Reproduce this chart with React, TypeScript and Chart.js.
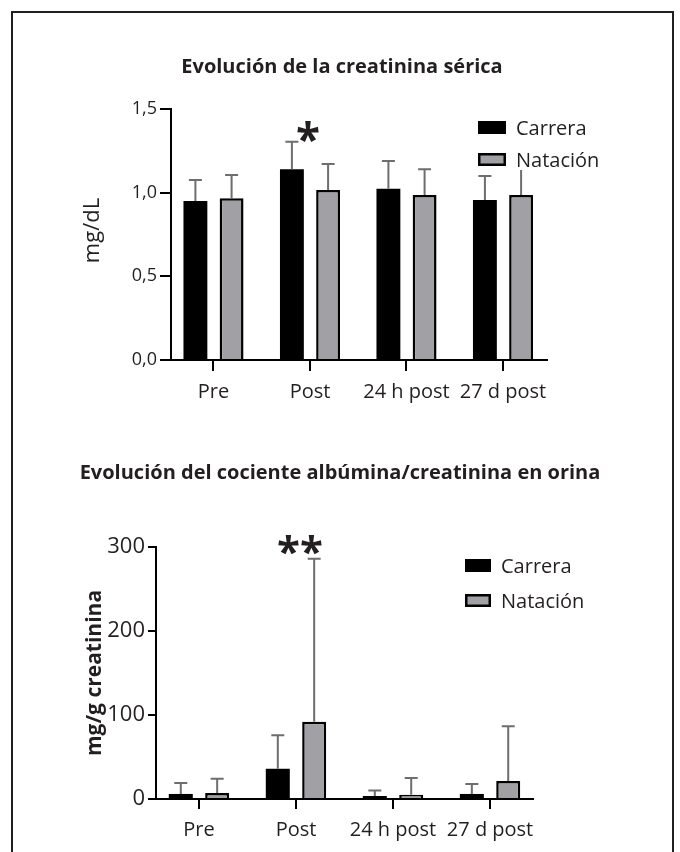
import React, { useEffect, useRef } from 'react';
import { Chart, registerables } from 'chart.js';
Chart.register(...registerables);

// ---------- data ----------
const categories = ['Pre', 'Post', '24 h post', '27 d post'];
const seriesNames = ['Carrera', 'Natación'];

// Serum creatinine (mg/dL): mean and SD
const creatCarrera = [0.95, 1.14, 1.024, 0.956];
const creatCarreraSD = [0.126, 0.165, 0.165, 0.144];
const creatNatacion = [0.966, 1.016, 0.986, 0.986];
const creatNatacionSD = [0.14, 0.155, 0.154, 0.17];
const creatTicks = [0, 0.5, 1.0, 1.5];
const creatMarks = ['', '*', '', ''];

// Urine albumin/creatinine ratio (mg/g creatinina): mean and SD
const acrCarrera = [6, 36, 3.6, 6];
const acrCarreraSD = [13, 40, 6.5, 12];
const acrNatacion = [7, 92, 5, 21.5];
const acrNatacionSD = [17, 194, 20, 65];
const acrTicks = [0, 100, 200, 300];
const acrMarks = ['', '**', '', ''];

// ---------- styles ----------
const FONT = "'Open Sans', 'DejaVu Sans', sans-serif";
const INK = '#231f20';
const GREY = '#a1a1a5';
const WHISKER = '#6e6e6e';
const seriesColors = ['#000000', GREY];

const decorPlugin: any = {
  id: 'decor',
  afterDatasetsDraw(chart: any, _args: any, o: any) {
    const ctx = chart.ctx;
    const ys = chart.scales.y;
    ctx.save();
    ctx.strokeStyle = WHISKER;
    ctx.lineWidth = 2;
    o.errors.forEach((errs: number[], di: number) => {
      const meta = chart.getDatasetMeta(di);
      meta.data.forEach((el: any, j: number) => {
        const top = ys.getPixelForValue(o.values[di][j] + errs[j]);
        ctx.beginPath();
        ctx.moveTo(el.x, el.y);
        ctx.lineTo(el.x, top);
        ctx.moveTo(el.x - o.capHalf, top);
        ctx.lineTo(el.x + o.capHalf, top);
        ctx.stroke();
      });
    });
    ctx.restore();
  },
  afterDraw(chart: any, _args: any, o: any) {
    const ctx = chart.ctx;
    const area = chart.chartArea;
    const xs = chart.scales.x;
    const ys = chart.scales.y;
    ctx.save();
    // title
    ctx.fillStyle = INK;
    ctx.font = `bold ${o.titleSize}px ${FONT}`;
    ctx.textAlign = 'center';
    ctx.textBaseline = 'middle';
    ctx.fillText(o.title, o.titleX, o.titleY);
    // y title
    ctx.save();
    ctx.translate(o.yTitleX, (area.top + area.bottom) / 2 + o.yTitleDy);
    ctx.rotate(-Math.PI / 2);
    ctx.font = `${o.yTitleWeight} ${o.yTitleSize}px ${FONT}`;
    ctx.fillText(o.yTitle, 0, 0);
    ctx.restore();
    // significance marks
    ctx.font = `bold ${o.markSize}px ${FONT}`;
    ctx.textBaseline = 'alphabetic';
    o.marks.forEach((m: string, j: number) => {
      if (!m) return;
      const mt = ctx.measureText(m);
      const cx = xs.getPixelForValue(j) + o.markDx;
      const cy = ys.getPixelForValue(o.markY);
      const base = cy + (mt.actualBoundingBoxAscent - mt.actualBoundingBoxDescent) / 2;
      ctx.fillText(m, cx, base);
    });
    // legend
    const lx = o.legendX, ly = o.legendY, gap = o.legendGap;
    ctx.fillStyle = '#fff';
    ctx.fillRect(lx - 4, ly - 8, 140, gap + 13 + 12);
    ctx.textAlign = 'left';
    ctx.textBaseline = 'middle';
    ctx.font = `${o.legendSize}px ${FONT}`;
    seriesNames.forEach((name, i) => {
      const by = ly + i * gap;
      ctx.fillStyle = seriesColors[i];
      ctx.fillRect(lx, by, o.legendBoxW, 13);
      if (i === 1) {
        ctx.strokeStyle = '#000';
        ctx.lineWidth = 2.5;
        ctx.strokeRect(lx + 1.25, by + 1.25, o.legendBoxW - 2.5, 13 - 2.5);
      }
      ctx.fillStyle = INK;
      ctx.fillText(name, lx + o.legendBoxW + 10, by + 8);
    });
    ctx.restore();
  },
};

function buildConfig(p: any): any {
  return {
    type: 'bar',
    data: {
      datasets: [0, 1].map((di) => ({
        label: seriesNames[di],
        data: p.values[di].map((v: number, i: number) => ({ x: i, y: v })),
        backgroundColor: seriesColors[di],
        borderColor: '#000',
        borderWidth: di === 1 ? 2.5 : 0,
        categoryPercentage: 0.75,
        barPercentage: 0.66,
      })),
    },
    options: {
      responsive: false,
      animation: false,
      devicePixelRatio: 1,
      layout: {
        padding: {
          left: 0,
          top: p.area.top,
          right: p.canvasW - p.area.right,
          bottom: p.canvasH - p.area.bottom - p.xAxisH,
        },
      },
      plugins: {
        legend: { display: false },
        title: { display: false },
        tooltip: { enabled: false },
        decor: p.decor,
      },
      scales: {
        x: {
          type: 'linear',
          min: p.xMin,
          max: p.xMax,
          offset: false,
          afterBuildTicks: (s: any) => {
            s.ticks = categories.map((_, i) => ({ value: i }));
          },
          afterFit: (s: any) => {
            s.height = p.xAxisH;
          },
          ticks: {
            callback: (v: number) => categories[v] ?? '',
            font: { family: FONT, size: p.xTickSize },
            color: INK,
            padding: p.xTickPad,
            maxRotation: 0,
            autoSkip: false,
          },
          grid: {
            display: true,
            drawOnChartArea: false,
            drawTicks: true,
            tickLength: p.xTickLen,
            color: '#000',
            lineWidth: 2,
            offset: false,
          },
          border: { display: true, color: '#000', width: 2 },
        },
        y: {
          min: p.yTicks[0],
          max: p.yTicks[p.yTicks.length - 1],
          afterBuildTicks: (s: any) => {
            s.ticks = p.yTicks.map((v: number) => ({ value: v }));
          },
          afterFit: (s: any) => {
            s.width = p.area.left;
          },
          ticks: {
            callback: p.fmt,
            font: { family: FONT, size: p.yTickSize },
            color: INK,
            padding: 3,
          },
          grid: {
            display: true,
            drawOnChartArea: false,
            drawTicks: true,
            tickLength: p.yTickLen,
            color: '#000',
            lineWidth: 2,
          },
          border: { display: true, color: '#000', width: 2 },
        },
      },
    },
    plugins: [decorPlugin],
  };
}

export default function App() {
  const r1 = useRef<HTMLCanvasElement>(null);
  const r2 = useRef<HTMLCanvasElement>(null);

  useEffect(() => {
    const creatValues = [creatCarrera, creatNatacion];
    const acrValues = [acrCarrera, acrNatacion];
    const c1 = new Chart(
      r1.current as HTMLCanvasElement,
      buildConfig({
        canvasW: 680,
        canvasH: 420,
        area: { left: 171, right: 547, top: 109, bottom: 360 },
        xAxisH: 50,
        xMin: -0.4404,
        xMax: 3.456,
        xTickSize: 20,
        xTickPad: 9,
        xTickLen: 11,
        yTickSize: 18,
        yTickLen: 11,
        yTicks: creatTicks,
        fmt: (v: number) => v.toFixed(1).replace('.', ','),
        values: creatValues,
        decor: {
          values: creatValues,
          errors: [creatCarreraSD, creatNatacionSD],
          capHalf: 6.5,
          title: 'Evolución de la creatinina sérica',
          titleSize: 20,
          titleX: 342,
          titleY: 67,
          yTitle: 'mg/dL',
          yTitleSize: 22,
          yTitleWeight: 'normal',
          yTitleX: 93,
          yTitleDy: -4,
          marks: creatMarks,
          markSize: 44,
          markDx: -2,
          markY: 1.363,
          legendX: 478,
          legendY: 121,
          legendGap: 32,
          legendBoxW: 28,
          legendSize: 20,
        },
      })
    );
    const c2 = new Chart(
      r2.current as HTMLCanvasElement,
      buildConfig({
        canvasW: 680,
        canvasH: 432,
        area: { left: 156, right: 533, top: 127, bottom: 379 },
        xAxisH: 45,
        xMin: -0.443,
        xMax: 3.443,
        xTickSize: 20,
        xTickPad: 9,
        xTickLen: 10,
        yTickSize: 22,
        yTickLen: 8,
        yTicks: acrTicks,
        fmt: (v: number) => String(v),
        values: acrValues,
        decor: {
          values: acrValues,
          errors: [acrCarreraSD, acrNatacionSD],
          capHalf: 6.5,
          title: 'Evolución del cociente albúmina/creatinina en orina',
          titleSize: 20,
          titleX: 340,
          titleY: 53,
          yTitle: 'mg/g creatinina',
          yTitleSize: 21,
          yTitleWeight: 'bold',
          yTitleX: 95,
          yTitleDy: 0,
          marks: acrMarks,
          markSize: 42,
          markDx: 4,
          markY: 302,
          legendX: 465,
          legendY: 139,
          legendGap: 35,
          legendBoxW: 26,
          legendSize: 20,
        },
      })
    );
    return () => {
      c1.destroy();
      c2.destroy();
    };
  }, []);

  return (
    <div
      style={{
        position: 'fixed',
        left: 0,
        top: 0,
        width: 680,
        height: 852,
        overflow: 'hidden',
        background: '#fff',
      }}
    >
      <div
        style={{
          position: 'absolute',
          left: 11,
          top: 11,
          width: 663,
          height: 900,
          border: `2px solid ${INK}`,
          boxSizing: 'border-box',
        }}
      />
      <canvas
        ref={r1}
        width={680}
        height={420}
        style={{ position: 'absolute', left: 0, top: 0, width: 680, height: 420 }}
      />
      <canvas
        ref={r2}
        width={680}
        height={432}
        style={{ position: 'absolute', left: 0, top: 420, width: 680, height: 432 }}
      />
    </div>
  );
}
